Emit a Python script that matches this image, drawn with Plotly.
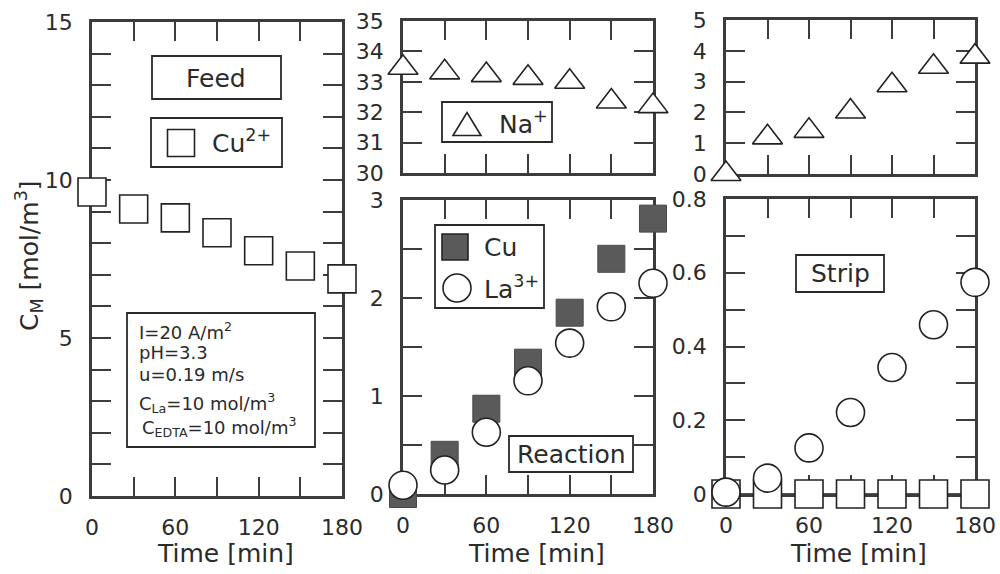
import plotly.graph_objects as go

# ---------------- data ----------------
time_min = [0, 30, 60, 90, 120, 150, 180]
feed_cu = [9.62, 9.08, 8.80, 8.33, 7.76, 7.28, 6.87]
reaction_na = [33.46, 33.31, 33.22, 33.13, 33.00, 32.35, 32.20]
reaction_cu = [0.00, 0.40, 0.87, 1.34, 1.85, 2.40, 2.81]
reaction_la = [0.09, 0.245, 0.63, 1.155, 1.54, 1.91, 2.15]
strip_na = [0.00, 1.19, 1.40, 2.03, 2.88, 3.48, 3.81]
strip_la = [0.005, 0.043, 0.125, 0.221, 0.343, 0.459, 0.574]
strip_cu = [0, 0, 0, 0, 0, 0, 0]

x_ticks = [0, 30, 60, 90, 120, 150, 180]
x_labels = ["0", "", "60", "", "120", "", "180"]
feed_yticks = list(range(0, 16))
feed_ylabels = ["0", "", "", "", "", "5", "", "", "", "", "10", "", "", "", "", "15"]
na_yticks = [30, 31, 32, 33, 34, 35]
na_ylabels = ["30", "31", "32", "33", "34", "35"]
rx_yticks = [0, 0.5, 1, 1.5, 2, 2.5, 3]
rx_ylabels = ["0", "", "1", "", "2", "", "3"]
sna_yticks = [0, 1, 2, 3, 4, 5]
sna_ylabels = ["0", "1", "2", "3", "4", "5"]
st_yticks = [0, 0.1, 0.2, 0.3, 0.4, 0.5, 0.6, 0.7, 0.8]
st_ylabels = ["0", "", "0.2", "", "0.4", "", "0.6", "", "0.8"]

# ---------------- layout helpers ----------------
W, H = 1000, 574
FONT = "DejaVu Sans"
INK = "#2b2b2b"
AX = "#3c3c3c"


def px(x):
    return x / W


def py(y):
    return 1 - y / H


fig = go.Figure()

MK_LINE = dict(color="#222222", width=1.6)

# Feed
fig.add_trace(go.Scatter(x=time_min, y=feed_cu, mode="markers", xaxis="x", yaxis="y",
                         marker=dict(symbol="square", size=28, color="white", line=MK_LINE),
                         cliponaxis=False))
# Na (reaction side, top middle)
fig.add_trace(go.Scatter(x=time_min, y=reaction_na, mode="markers", xaxis="x2", yaxis="y2",
                         marker=dict(symbol="triangle-up", size=26, color="white", line=MK_LINE),
                         cliponaxis=False))
# Reaction Cu + La
fig.add_trace(go.Scatter(x=time_min, y=reaction_cu, mode="markers", xaxis="x3", yaxis="y3",
                         marker=dict(symbol="square", size=27, color="#5a5a5a",
                                     line=dict(color="#4a4a4a", width=1)),
                         cliponaxis=False))
fig.add_trace(go.Scatter(x=time_min, y=reaction_la, mode="markers", xaxis="x3", yaxis="y3",
                         marker=dict(symbol="circle", size=28, color="white", line=MK_LINE),
                         cliponaxis=False))
# Strip Na (top right)
fig.add_trace(go.Scatter(x=time_min, y=strip_na, mode="markers", xaxis="x4", yaxis="y4",
                         marker=dict(symbol="triangle-up", size=26, color="white", line=MK_LINE),
                         cliponaxis=False))
# Strip Cu (squares joined by line) + La
fig.add_trace(go.Scatter(x=time_min, y=strip_cu, mode="lines+markers", xaxis="x5", yaxis="y5",
                         line=dict(color="#555555", width=1.8),
                         marker=dict(symbol="square", size=28, color="white", line=MK_LINE),
                         cliponaxis=False))
fig.add_trace(go.Scatter(x=time_min, y=strip_la, mode="markers", xaxis="x5", yaxis="y5",
                         marker=dict(symbol="circle", size=28, color="white", line=MK_LINE),
                         cliponaxis=False))


def xax(domain, anchor, labels=True):
    return dict(domain=domain, anchor=anchor, range=[0, 180], tickvals=x_ticks,
                ticktext=x_labels, showticklabels=labels, ticks="inside", ticklen=19,
                tickwidth=2, tickcolor=AX, showline=True, linecolor=AX, linewidth=2.5,
                mirror="ticks", showgrid=False, zeroline=False, layer="below traces",
                tickfont=dict(family=FONT, size=22, color=INK), ticklabelstandoff=10,
                fixedrange=True, automargin=False)


def yax(domain, anchor, rng, vals, texts):
    return dict(domain=domain, anchor=anchor, range=rng, tickvals=vals, ticktext=texts,
                ticks="inside", ticklen=19, tickwidth=2, tickcolor=AX, showline=True,
                linecolor=AX, linewidth=2.5, mirror="ticks", showgrid=False, zeroline=False,
                layer="below traces", tickfont=dict(family=FONT, size=22, color=INK),
                ticklabelstandoff=12, fixedrange=True, automargin=False)


fig.update_layout(
    width=W, height=H, autosize=False,
    margin=dict(l=0, r=0, t=0, b=0, pad=0, autoexpand=False),
    paper_bgcolor="white", plot_bgcolor="white", showlegend=False,
    font=dict(family=FONT, color=INK),
    xaxis=xax([px(92), px(342)], "y"),
    yaxis=yax([py(496), py(22)], "x", [0, 15], feed_yticks, feed_ylabels),
    xaxis2=xax([px(403), px(653)], "y2", labels=False),
    yaxis2=yax([py(173), py(21)], "x2", [30, 35], na_yticks, na_ylabels),
    xaxis3=xax([px(403), px(653)], "y3"),
    yaxis3=yax([py(494), py(200)], "x3", [0, 3], rx_yticks, rx_ylabels),
    xaxis4=xax([px(726), px(975)], "y4", labels=False),
    yaxis4=yax([py(174), py(20)], "x4", [0, 5], sna_yticks, sna_ylabels),
    xaxis5=xax([px(726), px(975)], "y5"),
    yaxis5=yax([py(494), py(199)], "x5", [0, 0.8], st_yticks, st_ylabels),
)

shapes = []
annos = []


def box(x0, y0, x1, y1):
    shapes.append(dict(type="rect", xref="paper", yref="paper", x0=px(x0), x1=px(x1),
                       y0=py(y1), y1=py(y0), line=dict(color="#2a2a2a", width=1.8),
                       fillcolor="white", layer="above"))


def text(x, y, s, size=24, xanchor="center"):
    annos.append(dict(x=px(x), y=py(y), xref="paper", yref="paper", text=s, showarrow=False,
                      xanchor=xanchor, yanchor="middle",
                      font=dict(family=FONT, size=size, color=INK)))


def sq(cx, cy, s, fill):
    shapes.append(dict(type="rect", xref="paper", yref="paper", x0=px(cx - s / 2),
                       x1=px(cx + s / 2), y0=py(cy + s / 2), y1=py(cy - s / 2),
                       line=dict(color="#222222", width=1.6), fillcolor=fill, layer="above"))


def circ(cx, cy, d):
    shapes.append(dict(type="circle", xref="paper", yref="paper", x0=px(cx - d / 2),
                       x1=px(cx + d / 2), y0=py(cy + d / 2), y1=py(cy - d / 2),
                       line=dict(color="#222222", width=1.6), fillcolor="white", layer="above"))


def tri(cx, cy, w, h):
    path = "M {} {} L {} {} L {} {} Z".format(px(cx - w / 2), py(cy + h / 2), px(cx + w / 2),
                                               py(cy + h / 2), px(cx), py(cy - h / 2))
    shapes.append(dict(type="path", xref="paper", yref="paper", path=path,
                       line=dict(color="#222222", width=1.6), fillcolor="white", layer="above"))


# Feed panel boxes
box(152, 56, 281, 99)
text(216, 78, "Feed", 25)
box(151, 118, 282, 167)
sq(181, 143, 27, "white")
text(210, 142, "Cu<sup>2+</sup>", 25, "left")

# Conditions box
box(127, 313, 315, 447)
text(137, 331, "I=20 A/m<sup>2</sup>", 18, "left")
text(137, 352, "pH=3.3", 18, "left")
text(137, 374, "u=0.19 m/s", 18, "left")
text(137, 403, "C<sub>La</sub>=10 mol/m<sup>3</sup>", 18, "left")
text(140, 427, "C<sub>EDTA</sub>=10 mol/m<sup>3</sup>", 18, "left")

# Na box
box(442, 102, 552, 142)
tri(467, 124, 28, 23)
text(497, 122, "Na<sup>+</sup>", 25, "left")

# Reaction legend
box(435, 225, 544, 308)
sq(455, 247, 26, "#5a5a5a")
text(482, 247, "Cu", 25, "left")
circ(457, 288, 28)
text(482, 287, "La<sup>3+</sup>", 25, "left")

box(509, 436, 633, 472)
text(571, 454, "Reaction", 25)

# Strip box
box(796, 255, 884, 292)
text(840, 273, "Strip", 25)

# Axis titles
for cx in (225, 536, 858):
    text(cx, 553, "Time [min]", 25)
annos.append(dict(x=px(29), y=py(256), xref="paper", yref="paper",
                  text="C<sub>M</sub> [mol/m<sup>3</sup>]", showarrow=False, textangle=-90,
                  xanchor="center", yanchor="middle",
                  font=dict(family=FONT, size=25, color=INK)))

fig.update_layout(shapes=shapes, annotations=annos)
fig.write_html("out.html", config={"displayModeBar": False},
               post_script="document.body.style.margin='0';document.body.style.overflow='hidden';")
